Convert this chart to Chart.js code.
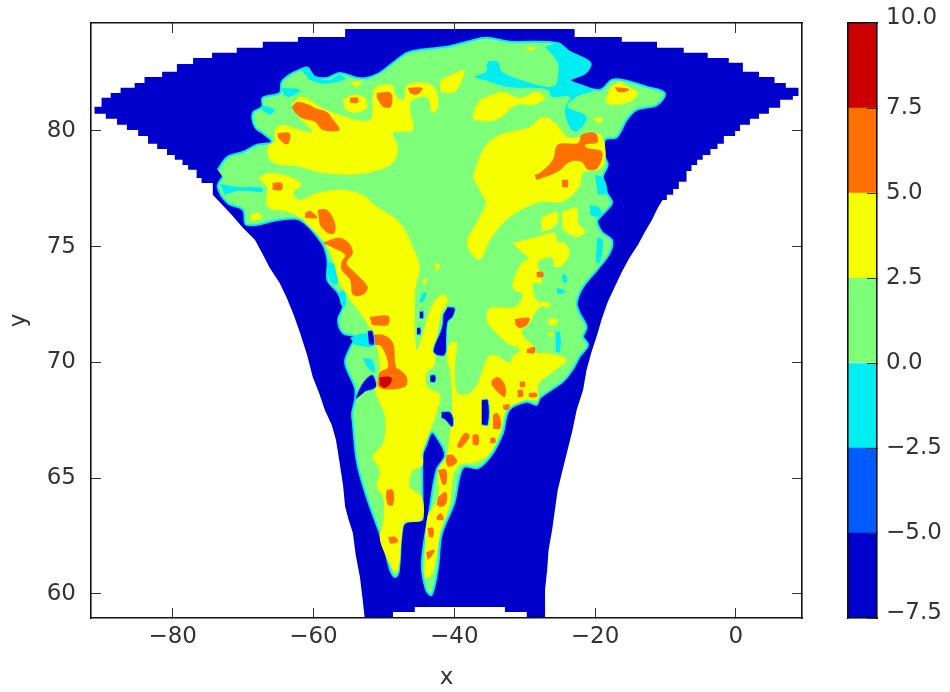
<!DOCTYPE html>
<html>
<head>
<meta charset="utf-8">
<style>
body { margin: 0; background: #fff; }
canvas { position: absolute; top: 0; filter: blur(0.6px); }
#map { left: 0; }
#bar { left: 840px; }
</style>
<script src="https://cdn.jsdelivr.net/npm/chart.js@4"></script>
</head>
<body>
<canvas id="map" width="950" height="692"></canvas>
<canvas id="bar" width="110" height="692"></canvas>
<script>
var levels = [-7.5, -5, -2.5, 0, 2.5, 5, 7.5, 10];
var levelColors = ["#0000cd", "#005cff", "#00eef2", "#7dff7a", "#f5ff00", "#ff7000", "#cc0000"];
var xTicks = [-80, -60, -40, -20, 0];
var yTicks = [60, 65, 70, 75, 80];

var fanOutline = [-91.1,80.74,-91.1,81.04,-90.1,81.04,-90.1,81.43,-88.8,81.43,-88.8,81.64,-87.4,81.64,-87.4,81.86,-85.4,81.86,-85.4,82.07,-84.0,82.07,-84.0,82.33,-81.5,82.33,-81.5,82.55,-79.4,82.55,-79.4,82.89,-77.1,82.89,-77.1,83.15,-74.4,83.15,-74.4,83.37,-70.9,83.37,-70.9,83.59,-67.2,83.59,-67.2,83.85,-62.2,83.85,-62.2,84.06,-55.5,84.06,-55.5,84.40,-22.9,84.40,-22.9,84.06,-16.2,84.06,-16.2,83.85,-11.2,83.85,-11.2,83.59,-7.4,83.59,-7.4,83.37,-4.0,83.37,-4.0,83.15,-1.0,83.15,-1.0,82.94,1.0,82.94,1.0,82.55,3.3,82.55,3.3,82.33,5.5,82.33,5.5,82.07,7.1,82.07,7.1,81.86,8.9,81.86,8.9,81.51,8.1,81.51,8.1,81.34,6.3,81.34,6.3,81.0,4.7,81.0,4.7,80.74,3.3,80.74,3.3,80.52,2.0,80.52,2.0,80.26,0.6,80.26,0.6,80.0,-0.1,80.0,-0.1,79.78,-1.7,79.78,-1.7,79.44,-2.6,79.44,-2.6,79.22,-3.6,79.22,-3.6,78.96,-4.7,78.96,-4.7,78.75,-5.5,78.75,-5.5,78.53,-6.3,78.53,-6.3,78.27,-7.0,78.27,-7.0,77.80,-8.1,77.80,-8.1,77.49,-8.9,77.49,-8.9,77.24,-9.8,77.24,-9.8,77.02,-10.4,77.02,-11.1,76.67,-11.9,76.16,-12.9,75.64,-13.9,75.08,-15.1,74.52,-16.2,73.91,-17.2,73.26,-18.2,72.61,-19.0,71.92,-19.7,71.19,-20.5,70.45,-21.2,69.68,-21.7,68.81,-22.6,67.95,-23.2,67.08,-23.9,66.22,-24.6,65.36,-25.3,64.49,-25.7,63.63,-26.1,62.76,-26.6,61.90,-26.8,61.04,-27.1,60.17,-27.1,58.9,-29.7,58.9,-29.7,59.22,-32.8,59.22,-32.8,59.44,-45.6,59.44,-45.6,59.22,-48.7,59.22,-48.7,58.9,-52.7,58.9,-53.0,59.74,-53.4,60.73,-54.0,61.68,-54.4,62.63,-55.0,63.20,-55.5,63.76,-55.8,64.71,-56.3,65.70,-56.8,66.65,-57.4,67.30,-58.4,67.95,-59.2,68.68,-60.1,69.37,-60.9,70.32,-61.9,71.27,-62.8,72.05,-63.8,72.79,-64.8,73.43,-66.2,74.08,-67.3,74.73,-68.3,75.29,-70.0,75.81,-71.6,76.37,-74.3,77.24,-74.3,77.75,-75.9,77.75,-75.9,77.97,-76.6,77.97,-76.6,78.32,-77.8,78.32,-77.8,78.53,-78.6,78.53,-78.6,78.75,-79.7,78.75,-79.7,78.96,-80.8,78.96,-80.8,79.22,-82.2,79.22,-82.2,79.44,-83.5,79.44,-83.5,79.78,-84.9,79.78,-84.9,80.04,-86.5,80.04,-86.5,80.26,-87.9,80.26,-87.9,80.52,-89.5,80.52,-89.5,80.74];

var landOutline = [-73.6,78.32,-72.2,78.88,-70.0,79.09,-68.0,79.40,-65.9,79.52,-67.2,79.91,-68.3,80.17,-68.6,80.78,-67.3,81.04,-67.2,81.43,-64.8,81.64,-64.5,82.12,-63.4,82.42,-61.9,82.64,-60.9,82.72,-59.8,82.33,-58.0,82.29,-56.3,82.50,-53.8,82.29,-52.4,82.29,-50.6,82.50,-48.7,82.94,-46.7,83.37,-44.9,83.50,-41.1,83.63,-38.2,83.85,-35.4,84.02,-32.1,83.85,-25.4,83.80,-23.6,83.41,-20.7,82.94,-21.4,82.50,-23.6,82.20,-22.2,81.99,-19.3,81.77,-17.6,82.20,-16.1,82.20,-12.6,81.90,-10.1,81.64,-11.2,81.12,-14.1,80.91,-15.5,80.48,-16.9,79.74,-18.6,79.61,-18.6,78.88,-18.2,78.53,-18.9,78.01,-18.3,77.32,-17.6,76.89,-19.3,76.28,-19.7,76.07,-18.9,75.59,-17.6,75.29,-17.9,74.73,-19.7,74.0,-21.7,73.26,-22.6,72.57,-22.2,72.14,-21.2,71.53,-21.7,71.10,-21.0,70.76,-22.2,70.24,-23.2,69.68,-24.6,69.16,-27.8,68.47,-28.3,68.17,-29.7,68.30,-32.2,67.95,-33.1,66.95,-34.7,66.0,-36.6,65.44,-38.6,65.49,-39.3,65.01,-40.0,63.93,-41.8,62.55,-42.3,61.17,-43.2,59.96,-44.0,60.17,-44.6,61.34,-43.5,63.63,-42.5,65.36,-41.3,66.0,-42.5,66.78,-43.2,66.99,-44.0,66.43,-44.5,66.0,-44.5,63.50,-44.6,63.20,-47.0,63.07,-47.5,62.55,-47.9,60.95,-48.4,60.73,-49.1,61.04,-50.1,62.20,-52.3,64.06,-53.8,65.66,-54.4,67.39,-54.5,67.82,-54.1,68.38,-54.1,68.90,-55.5,69.98,-54.8,70.63,-54.1,71.10,-55.8,71.27,-56.5,71.84,-55.8,72.40,-56.5,73.0,-58.0,73.56,-58.0,74.43,-58.8,75.16,-61.9,76.16,-64.8,76.16,-69.5,75.94,-70.0,76.59,-72.2,76.89,-73.6,77.58,-72.9,78.01];

var cyanPatches = [
  [-27.1,83.63,-25.3,82.94,-25.3,82.33,-25.6,81.99,-26.7,81.90,-29.7,82.12,-33.2,82.55,-33.8,82.98,-35.2,82.98,-35.5,82.55,-37.1,82.33,-35.7,82.20,-32.5,81.90,-29.7,81.86,-26.7,81.77,-26.1,81.47,-23.6,81.47,-24.3,80.91,-23.6,80.17,-22.6,79.96,-21.2,80.61,-23.9,81.04,-22.6,81.47,-20.3,81.77,-23.6,82.20,-21.2,82.55,-20.7,82.94,-23.6,83.41,-25.4,83.80],
  [-64.5,81.86,-61.9,81.77,-63.4,81.47,-64.2,81.56],
  [-61.9,82.68,-60.8,82.77,-59.7,82.33,-57.7,82.20,-56.3,82.42,-55.5,82.24,-58.4,82.03,-60.5,82.20],
  [-67.3,81.12,-65.5,80.91,-66.2,80.70,-67.3,80.91],
  [-73.3,77.71,-70.5,77.58,-67.3,77.54,-67.3,77.37,-70.5,77.41,-72.6,77.24],
  [-58.0,74.34,-57.0,74.21,-56.5,73.43,-57.4,73.43,-58.0,73.78],
  [-56.5,73.0,-55.5,73.13,-55.5,72.40,-56.1,72.49],
  [-54.8,71.06,-52.7,71.27,-51.7,70.97,-51.7,70.67,-54.1,70.76],
  [-53.0,70.19,-51.7,70.11,-51.3,69.59,-52.3,69.76],
  [-25.6,71.32,-25.0,71.32,-25.0,70.45,-25.6,70.45],
  [-24.7,73.78,-24.1,73.78,-24.1,73.43,-24.6,73.48],
  [-25.4,73.22,-24.3,73.09,-24.6,72.96,-25.4,73.0],
  [-19.7,75.42,-18.9,75.29,-19.3,74.30,-19.9,74.34],
  [-20.0,78.10,-18.8,77.97,-18.3,77.32,-19.6,77.24],
  [-20.7,76.80,-19.3,76.67,-19.3,76.28,-20.7,76.37],
  [-44.5,73.0,-43.9,73.0,-44.5,72.6,-45.0,72.6]
];

var yellowPatches = [
  [-63.1,81.12,-61.9,81.47,-60.5,81.34,-59.1,81.04,-56.3,80.69,-52.0,80.48,-51.6,81.47,-51.3,81.86,-48.9,81.99,-48.2,81.47,-47.2,81.34,-46.7,81.99,-43.9,82.07,-42.6,81.77,-42.3,81.04,-43.2,80.78,-43.8,81.43,-45.9,81.34,-46.3,80.99,-45.9,80.04,-48.7,79.91,-48.0,79.31,-48.7,78.62,-51.6,78.23,-55.1,78.10,-59.5,78.23,-61.9,78.45,-65.9,78.66,-66.5,79.31,-65.5,79.61,-65.5,80.04,-64.4,80.26,-61.9,80.04,-60.2,79.96,-61.9,80.56],
  [-55.8,81.34,-54.4,81.56,-52.7,81.43,-52.4,80.99,-54.1,80.78,-55.5,80.91],
  [-54.8,82.12,-53.1,82.12,-54.0,81.86],
  [-67.9,77.97,-66.2,78.19,-62.9,77.97,-61.7,77.67,-62.9,77.32,-61.9,77.02,-59.5,77.32,-55.8,77.45,-53.0,77.24,-51.3,76.80,-47.7,76.03,-45.9,74.99,-44.9,74.13,-45.6,73.0,-45.3,70.54,-44.2,71.53,-43.0,72.57,-41.6,72.92,-40.9,72.70,-41.8,72.14,-42.6,70.76,-42.8,69.89,-43.9,69.55,-43.8,68.94,-42.0,68.60,-42.5,67.82,-43.5,66.95,-44.5,66.09,-44.5,65.57,-46.0,65.27,-46.3,64.62,-44.6,64.19,-44.6,63.20,-47.0,63.07,-47.4,62.63,-47.9,61.04,-48.4,60.91,-49.9,61.77,-50.6,62.46,-50.1,63.07,-50.1,64.19,-51.0,64.62,-50.6,65.36,-51.6,65.92,-50.1,66.52,-49.9,67.73,-51.3,68.81,-50.6,69.55,-50.9,70.54,-52.0,71.49,-56.3,73.43,-57.2,74.43,-58.7,75.29,-60.1,75.72,-61.9,76.24,-63.6,76.50,-66.5,76.72,-66.5,77.58],
  [-69.0,76.37,-67.9,76.46,-67.3,76.24,-68.8,76.11],
  [-37.4,78.01,-35.7,79.31,-33.5,79.83,-29.3,80.17,-27.4,80.61,-25.7,80.35,-23.9,79.74,-22.2,79.74,-20.3,79.91,-18.9,79.74,-18.6,78.62,-19.7,78.32,-21.7,78.19,-22.2,77.58,-24.7,76.93,-27.8,76.93,-32.1,76.28,-34.9,75.29,-36.4,74.43,-38.2,75.16,-36.6,76.16,-35.4,76.89],
  [-36.4,81.34,-33.2,81.68,-30.7,81.43,-28.3,81.68,-27.1,81.43,-28.8,81.12,-31.1,81.12,-34.0,80.48,-37.1,80.48,-37.4,80.78],
  [-42.0,82.20,-38.8,82.64,-38.5,82.55,-39.9,81.68,-42.0,81.68],
  [-17.9,81.86,-16.5,82.12,-15.1,81.86,-13.9,81.64,-15.1,81.25,-17.5,81.12,-18.6,81.25],
  [-20.3,80.56,-18.9,80.56,-19.3,80.35,-19.9,80.39],
  [-29.7,83.63,-28.6,83.63,-28.6,83.50,-29.7,83.50],
  [-27.6,76.28,-25.4,76.50,-25.3,76.07,-26.0,75.81,-27.6,75.64],
  [-24.7,76.50,-22.6,76.67,-22.4,76.03,-21.4,75.64,-22.6,75.42,-24.6,75.72],
  [-31.8,75.16,-28.3,75.42,-25.7,75.59,-25.3,75.20,-24.3,75.16,-23.6,74.73,-24.6,74.21,-25.7,74.13,-26.1,74.52,-27.8,74.43,-28.1,74.21,-27.6,73.43,-28.8,73.43,-28.3,72.70,-26.4,72.57,-26.4,72.40,-27.8,72.40,-29.3,71.71,-30.4,71.27,-28.6,70.67,-28.3,70.41,-26.8,70.41,-24.0,70.11,-26.0,69.59,-28.1,69.03,-28.1,68.38,-29.7,68.38,-32.5,67.95,-33.5,66.95,-34.9,66.09,-36.8,65.70,-39.2,65.57,-40.2,65.05,-40.6,63.93,-42.0,62.63,-42.8,61.17,-43.5,60.73,-44.2,60.73,-44.2,61.34,-43.8,63.33,-42.3,64.19,-42.3,65.36,-41.1,66.0,-40.6,67.08,-40.3,68.38,-40.6,69.68,-41.1,70.24,-40.6,70.84,-39.6,70.84,-39.9,69.89,-39.5,68.68,-37.8,68.68,-36.6,69.16,-35.2,70.24,-34.2,70.32,-32.1,69.98,-31.8,70.24,-30.7,70.54,-32.5,70.84,-34.2,71.32,-35.4,71.84,-34.9,72.35,-31.4,72.40,-30.3,72.92,-31.7,73.22,-30.7,74.21,-29.5,74.52,-30.3,74.73],
  [-26.7,71.92,-25.3,71.84,-25.6,71.62,-26.6,71.62],
  [-26.7,71.27,-26.0,71.27,-26.0,71.14,-26.7,71.14],
  [-42.8,74.3,-42.0,74.2,-42.6,73.9],
  [-44.5,73.6,-43.8,73.6,-44.3,73.3]
];

var orangePatches = [
  [-63.1,81.04,-62.3,81.25,-60.5,81.12,-59.8,80.99,-58.1,80.82,-57.2,80.48,-56.3,80.04,-58.7,80.04,-59.8,80.39,-61.7,80.56,-62.6,80.78],
  [-65.1,79.91,-63.4,79.91,-63.5,79.48,-64.1,79.44,-65.1,79.74],
  [-54.8,81.43,-53.7,81.43,-53.7,81.21,-54.8,81.21],
  [-51.0,81.64,-49.0,81.64,-49.0,81.04,-50.1,81.04,-51.0,81.43],
  [-46.6,81.86,-44.5,81.86,-44.9,81.64,-45.5,81.56,-46.3,81.64],
  [-65.8,77.75,-64.5,77.75,-64.5,77.45,-65.8,77.45],
  [-61.2,76.46,-60.4,76.54,-59.5,76.24,-61.2,76.24],
  [-59.4,76.59,-58.1,76.59,-57.0,76.07,-57.0,75.59,-58.0,75.59,-59.1,75.94],
  [-58.7,75.16,-56.5,75.38,-55.1,75.20,-54.4,74.73,-55.3,74.30,-54.1,73.87,-52.3,73.26,-53.0,72.92,-54.4,72.92,-54.8,73.56,-56.0,74.0,-56.0,74.34,-55.5,74.64,-57.2,74.95],
  [-52.0,71.97,-49.4,72.01,-49.4,71.62,-51.7,71.62],
  [-51.6,71.19,-50.1,71.19,-48.7,70.84,-48.3,69.81,-47.7,69.68,-46.7,69.33,-47.0,68.94,-50.6,68.90,-50.6,69.55,-49.4,69.81,-50.3,70.67,-51.3,70.76],
  [-49.6,64.49,-48.7,64.49,-48.7,63.84,-49.4,63.84,-49.7,64.19],
  [-49.4,62.46,-48.4,62.46,-48.0,62.25,-49.1,62.16],
  [-42.3,65.36,-41.2,65.36,-41.1,64.79,-41.6,64.71,-42.0,65.01],
  [-41.1,66.0,-40.2,66.0,-39.6,65.70,-40.8,65.49,-41.2,65.70],
  [-42.3,64.19,-41.2,64.41,-41.1,63.93,-41.8,63.76,-42.5,63.84],
  [-42.5,63.33,-41.9,63.50,-41.5,63.20,-42.5,63.20],
  [-43.8,62.85,-43.0,62.85,-43.0,62.46,-43.6,62.46],
  [-44.0,61.81,-42.8,61.90,-43.3,61.60,-43.8,61.47],
  [-39.6,66.44,-38.5,66.95,-37.8,66.82,-38.9,66.35,-39.5,66.31],
  [-37.4,66.87,-36.6,66.87,-36.6,66.44,-37.4,66.44],
  [-34.9,66.74,-34.2,66.74,-34.2,66.52,-34.9,66.52],
  [-34.5,67.73,-33.9,67.82,-33.4,67.52,-33.5,67.13,-34.5,67.13],
  [-33.1,68.17,-32.1,68.17,-32.4,67.95,-33.0,67.95],
  [-34.7,69.24,-33.8,69.37,-32.8,69.03,-32.8,68.51,-33.9,68.73,-34.7,69.03],
  [-30.7,69.16,-30.0,69.16,-30.0,68.94,-30.7,68.94],
  [-31.0,68.81,-30.3,68.81,-30.3,68.51,-31.0,68.51],
  [-29.4,68.68,-28.3,68.68,-28.3,68.51,-29.4,68.51],
  [-31.4,71.88,-29.3,71.92,-29.7,71.62,-30.7,71.49,-31.3,71.62],
  [-29.7,70.58,-28.6,70.67,-28.6,70.41,-29.7,70.41],
  [-28.3,73.91,-27.4,73.91,-27.4,73.69,-28.3,73.69],
  [-28.6,78.10,-27.8,78.19,-26.0,78.75,-25.3,79.40,-22.4,79.48,-21.9,79.83,-20.0,79.91,-19.6,79.52,-21.4,79.40,-21.2,79.27,-19.0,79.09,-19.6,78.40,-21.0,78.32,-21.9,78.66,-23.6,78.66,-25.3,78.23,-28.3,77.88],
  [-24.7,77.88,-23.9,77.88,-23.9,77.58,-24.7,77.58],
  [-17.2,81.90,-15.1,81.81,-15.8,81.68,-16.8,81.68]
];

var redPatches = [
  [-50.6,69.37,-49.0,69.37,-49.0,69.11,-49.9,68.90,-50.6,69.03]
];

var blueHoles = [
  [-40.9,72.40,-39.9,72.35,-40.2,71.97,-40.9,71.75,-41.1,70.97,-41.3,70.32,-42.5,70.32,-43.0,70.54,-41.8,71.49,-41.6,72.05],
  [-41.8,67.86,-40.6,67.86,-40.1,67.52,-40.3,67.21,-41.3,67.52,-41.8,67.60],
  [-36.1,68.38,-35.2,68.38,-35.2,67.30,-36.1,67.30],
  [-54.1,68.38,-53.7,68.73,-52.7,69.24,-51.6,69.46,-51.1,68.94,-52.7,68.73],
  [-52.3,71.36,-51.6,71.36,-51.4,70.76,-52.1,70.76],
  [-44.9,72.2,-44.4,72.2,-44.4,71.9,-44.9,71.9],
  [-45.3,71.5,-44.8,71.5,-44.8,71.2,-45.3,71.2],
  [-43.4,69.45,-42.7,69.45,-42.7,69.15,-43.4,69.15]
];

function toPoints(flat) {
  var pts = [];
  for (var i = 0; i < flat.length; i += 2) {
    pts.push({x: flat[i], y: flat[i + 1]});
  }
  return pts;
}

var tickFont = {family: "DejaVu Sans", size: 23};
var textColor = "#333";

function minusSign(text) {
  return String(text).replace("-", "\u2212");
}

// later entries end up on top
var mapSets = [];
function addShape(flat, color, edgeColor, edgeWidth, tension) {
  mapSets.push({
    data: toPoints(flat),
    showLine: true,
    fill: "shape",
    backgroundColor: color,
    borderColor: edgeColor || color,
    borderWidth: edgeWidth || 0,
    pointRadius: 0,
    tension: tension === undefined ? 0.35 : tension,
    order: -mapSets.length
  });
}

addShape(fanOutline, levelColors[0], null, 0, 0);
addShape(landOutline, levelColors[3], levelColors[2], 2);
cyanPatches.forEach(function(p) { addShape(p, levelColors[2]); });
yellowPatches.forEach(function(p) { addShape(p, levelColors[4]); });
orangePatches.forEach(function(p) { addShape(p, levelColors[5]); });
redPatches.forEach(function(p) { addShape(p, levelColors[6]); });
blueHoles.forEach(function(p) { addShape(p, levelColors[0], levelColors[2], 1); });

// fixed box sizes so the plot area lands where the reference has it
function fixSize(width, height) {
  return function(s) {
    if (width !== null) s.width = width;
    if (height !== null) s.height = height;
    s.paddingTop = s.paddingBottom = s.paddingLeft = s.paddingRight = 0;
  };
}

function frameAxis(position, axis, min, max, ticks, showLabels, titleText, labelGap) {
  return {
    type: "linear",
    axis: axis,
    position: position,
    min: min,
    max: max,
    afterBuildTicks: function(s) {
      s.ticks = ticks.map(function(v) { return {value: v}; });
    },
    border: {display: true, color: "#111", width: 1.6, z: 1},
    grid: {drawOnChartArea: false, drawTicks: true, tickLength: -10, tickColor: "#333", z: 1},
    title: {display: !!titleText, text: titleText, font: tickFont, color: textColor, padding: {top: 5, bottom: 0}},
    ticks: {
      display: showLabels,
      autoSkip: false,
      maxRotation: 0,
      font: tickFont,
      color: textColor,
      padding: labelGap || 0,
      callback: function(v) { return minusSign(v); }
    }
  };
}

var xMin = -91.6, xMax = 9.4, yMin = 58.96, yMax = 84.66;

var xBottom = frameAxis("bottom", "x", xMin, xMax, xTicks, true, "x", 15);
xBottom.afterFit = fixSize(null, 74);
var xTop = frameAxis("top", "x", xMin, xMax, xTicks, false);
xTop.afterFit = fixSize(null, 0);
var yLeft = frameAxis("left", "y", yMin, yMax, yTicks, true, "y", 25);
yLeft.afterFit = fixSize(91, null);
var yRight = frameAxis("right", "y", yMin, yMax, yTicks, false);
yRight.afterFit = fixSize(0, null);

new Chart(document.getElementById("map"), {
  type: "scatter",
  data: {datasets: mapSets},
  options: {
    responsive: false,
    animation: false,
    events: [],
    layout: {padding: {left: 0, right: 148, top: 23, bottom: 0}},
    plugins: {legend: {display: false}, tooltip: {enabled: false}},
    scales: {x: xBottom, x2: xTop, y: yLeft, y2: yRight}
  }
});

// colour bar
var barSets = [];
for (var i = 0; i < levelColors.length; i++) {
  barSets.push({
    data: [[levels[i], levels[i + 1]]],
    backgroundColor: levelColors[i],
    borderWidth: 0,
    barPercentage: 1,
    categoryPercentage: 1,
    grouped: false
  });
}

var barRight = frameAxis("right", "y", -7.5, 10, levels, true, null, 19);
// end labels sit a little above their ticks, so they get an empty second line
barRight.ticks.callback = function(v) {
  var label = minusSign(v.toFixed(1));
  return (v === levels[0] || v === levels[levels.length - 1]) ? [label, ""] : label;
};
barRight.ticks.font = function(ctx) {
  var v = ctx.tick ? ctx.tick.value : 0;
  var atEnd = v === levels[0] || v === levels[levels.length - 1];
  return {family: "DejaVu Sans", size: 23, lineHeight: atEnd ? "10px" : 1.2};
};
barRight.afterFit = fixSize(73, null);
var barLeft = frameAxis("left", "y", -7.5, 10, []);
barLeft.ticks.display = false;
barLeft.afterFit = fixSize(0, null);

function barEdge(position) {
  return {
    type: "category",
    position: position,
    border: {display: true, color: "#111", width: 1.6, z: 1},
    grid: {display: false},
    ticks: {display: false},
    afterFit: fixSize(null, 0)
  };
}

new Chart(document.getElementById("bar"), {
  type: "bar",
  data: {labels: ["levels"], datasets: barSets},
  options: {
    responsive: false,
    animation: false,
    events: [],
    layout: {padding: {left: 8, right: 0, top: 23, bottom: 74}},
    plugins: {legend: {display: false}, tooltip: {enabled: false}},
    scales: {x: barEdge("bottom"), x2: barEdge("top"), y: barRight, y2: barLeft}
  }
});
</script>
</body>
</html>
